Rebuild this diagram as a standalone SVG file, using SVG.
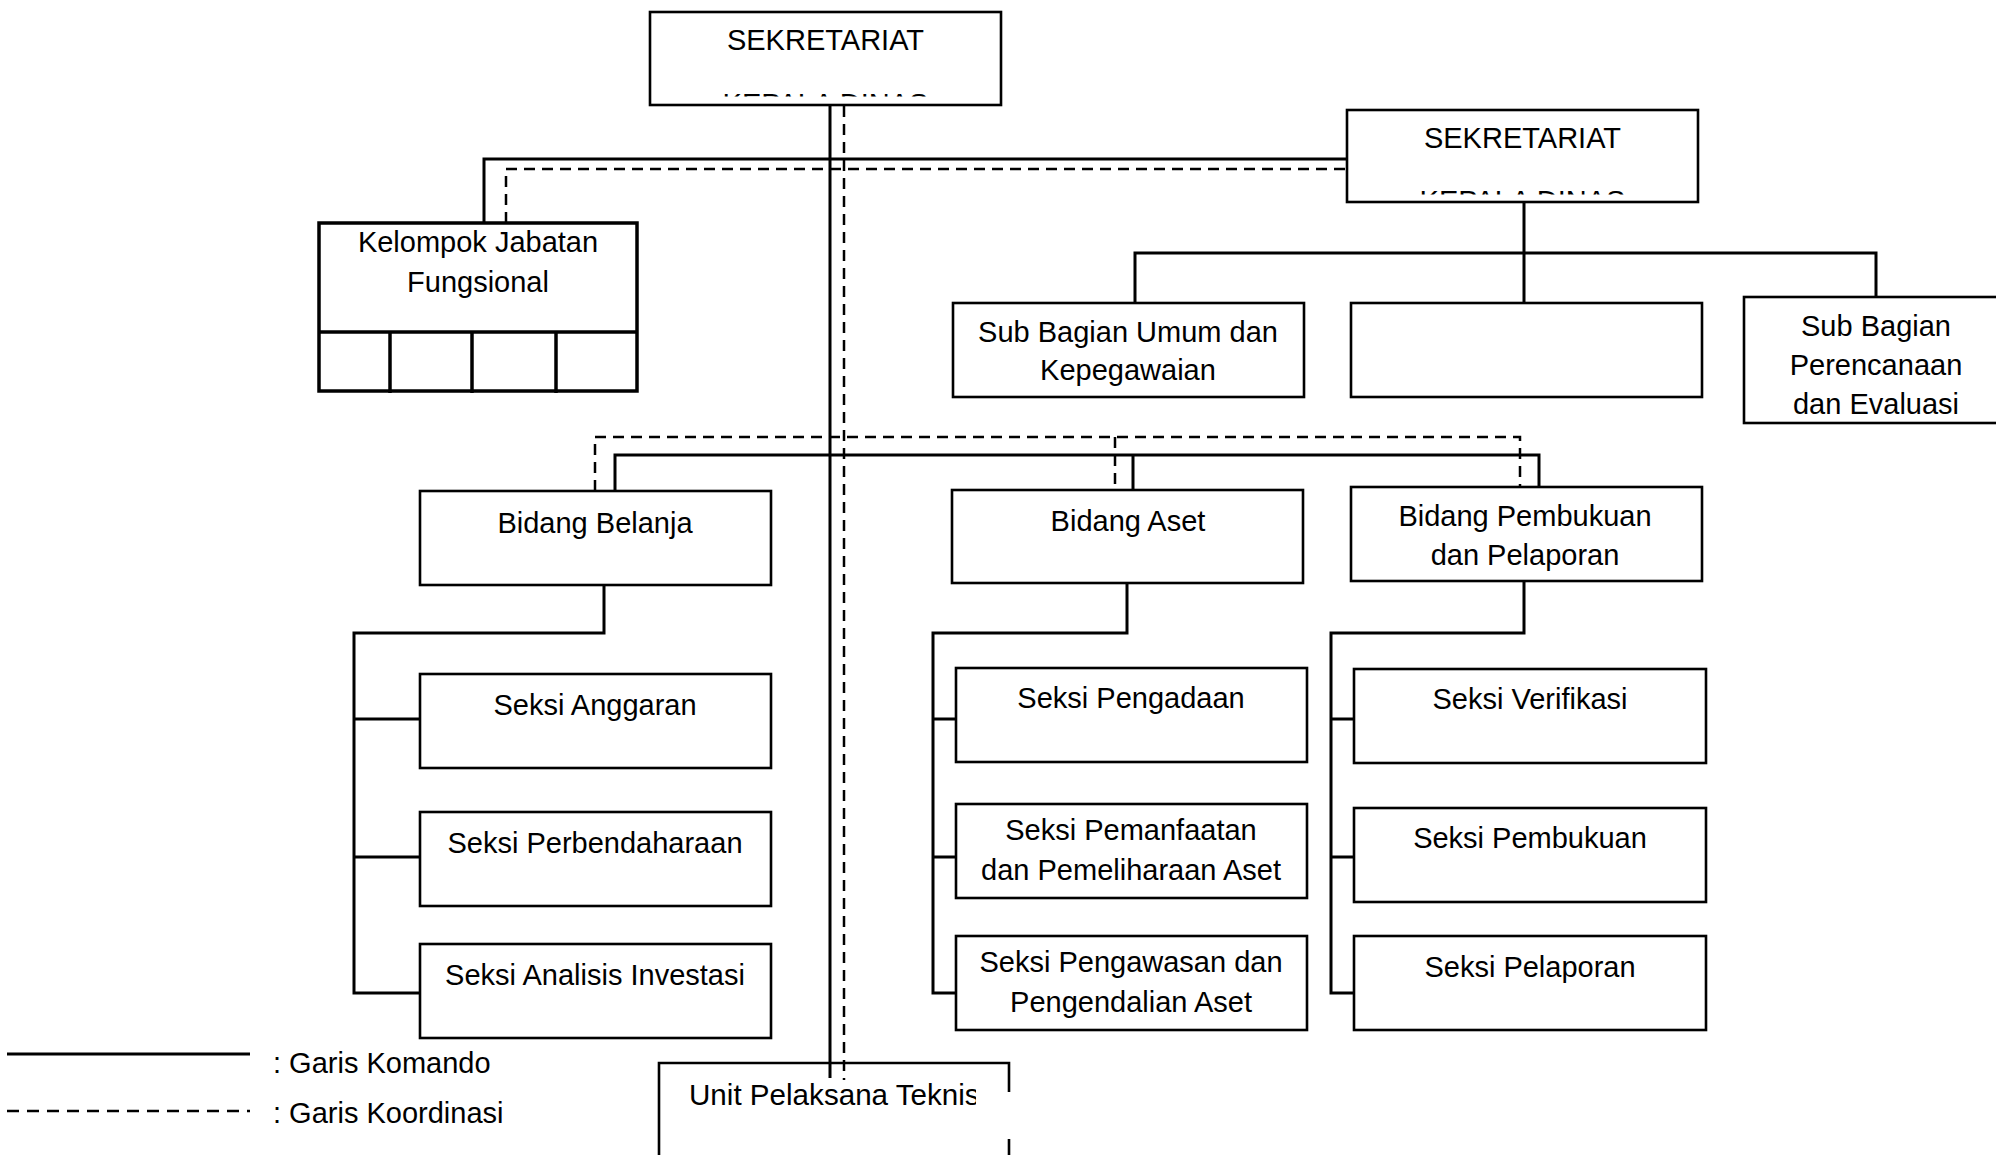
<svg xmlns="http://www.w3.org/2000/svg" width="1996" height="1155" viewBox="0 0 1996 1155">
<style>
.box{fill:#fff;stroke:#000;stroke-width:2.6}
.kb{fill:#fff;stroke:#000;stroke-width:3.5}
.t{font-family:"Liberation Sans",Arial,sans-serif;font-size:29px;fill:#000;text-anchor:middle}
.tl{font-family:"Liberation Sans",Arial,sans-serif;font-size:29px;fill:#000}
.c{fill:none;stroke:#000;stroke-width:3}
.d{fill:none;stroke:#000;stroke-width:2.5;stroke-dasharray:11 7}
</style>
<defs>
<clipPath id="clipTop"><rect x="650" y="11" width="351" height="85.5"/></clipPath>
<clipPath id="clipSek"><rect x="1347" y="110" width="351" height="84.5"/></clipPath>
<clipPath id="clipUpt"><rect x="659" y="1062" width="317" height="93"/></clipPath>
</defs>
<rect width="1996" height="1155" fill="#fff"/>

<g id="nodes">
<g id="sekretariat-top">
<rect class="box" x="650" y="12" width="351" height="93"/>
<text class="t" x="825.5" y="50">SEKRETARIAT</text>
<text class="t" x="825.5" y="114" clip-path="url(#clipTop)">KEPALA DINAS</text>
</g>
<g id="sekretariat">
<rect class="box" x="1347" y="110" width="351" height="92"/>
<text class="t" x="1522.5" y="148">SEKRETARIAT</text>
<text class="t" x="1522.5" y="211" clip-path="url(#clipSek)">KEPALA DINAS</text>
</g>
<g id="kelompok-jabatan-fungsional">
<rect class="kb" x="319" y="223" width="318" height="168"/>
<line class="kb" x1="319" y1="332" x2="637" y2="332"/>
<line class="kb" x1="390" y1="332" x2="390" y2="393"/>
<line class="kb" x1="472" y1="332" x2="472" y2="393"/>
<line class="kb" x1="556" y1="332" x2="556" y2="393"/>
<text class="t" x="478" y="252">Kelompok Jabatan</text>
<text class="t" x="478" y="292">Fungsional</text>
</g>
<g id="sub-bagian-umum">
<rect class="box" x="953" y="303" width="351" height="94"/>
<text class="t" x="1128" y="342">Sub Bagian Umum dan</text>
<text class="t" x="1128" y="380">Kepegawaian</text>
</g>
<g id="sub-bagian-kosong">
<rect class="box" x="1351" y="303" width="351" height="94"/>
</g>
<g id="sub-bagian-perencanaan">
<rect class="box" x="1744" y="297" width="300" height="126"/>
<text class="t" x="1876" y="336">Sub Bagian</text>
<text class="t" x="1876" y="375">Perencanaan</text>
<text class="t" x="1876" y="414">dan Evaluasi</text>
</g>
<g id="bidang-belanja">
<rect class="box" x="420" y="491" width="351" height="94"/>
<text class="t" x="595" y="533">Bidang Belanja</text>
</g>
<g id="bidang-aset">
<rect class="box" x="952" y="490" width="351" height="93"/>
<text class="t" x="1128" y="531">Bidang Aset</text>
</g>
<g id="bidang-pembukuan">
<rect class="box" x="1351" y="487" width="351" height="94"/>
<text class="t" x="1525" y="526">Bidang Pembukuan</text>
<text class="t" x="1525" y="565">dan Pelaporan</text>
</g>
<g id="seksi-anggaran">
<rect class="box" x="420" y="674" width="351" height="94"/>
<text class="t" x="595" y="715">Seksi Anggaran</text>
</g>
<g id="seksi-perbendaharaan">
<rect class="box" x="420" y="812" width="351" height="94"/>
<text class="t" x="595" y="853">Seksi Perbendaharaan</text>
</g>
<g id="seksi-analisis-investasi">
<rect class="box" x="420" y="944" width="351" height="94"/>
<text class="t" x="595" y="985">Seksi Analisis Investasi</text>
</g>
<g id="seksi-pengadaan">
<rect class="box" x="956" y="668" width="351" height="94"/>
<text class="t" x="1131" y="708">Seksi Pengadaan</text>
</g>
<g id="seksi-pemanfaatan">
<rect class="box" x="956" y="804" width="351" height="94"/>
<text class="t" x="1131" y="840">Seksi Pemanfaatan</text>
<text class="t" x="1131" y="880">dan Pemeliharaan Aset</text>
</g>
<g id="seksi-pengawasan">
<rect class="box" x="956" y="936" width="351" height="94"/>
<text class="t" x="1131" y="972">Seksi Pengawasan dan</text>
<text class="t" x="1131" y="1012">Pengendalian Aset</text>
</g>
<g id="seksi-verifikasi">
<rect class="box" x="1354" y="669" width="352" height="94"/>
<text class="t" x="1530" y="709">Seksi Verifikasi</text>
</g>
<g id="seksi-pembukuan">
<rect class="box" x="1354" y="808" width="352" height="94"/>
<text class="t" x="1530" y="848">Seksi Pembukuan</text>
</g>
<g id="seksi-pelaporan">
<rect class="box" x="1354" y="936" width="352" height="94"/>
<text class="t" x="1530" y="977">Seksi Pelaporan</text>
</g>
<g id="unit-pelaksana-teknis">
<path class="box" style="fill:none" d="M659 1160 V1063 H1009 V1092 M1009 1139 V1160"/>
<text class="tl" x="689" y="1105" style="font-size:29.6px" clip-path="url(#clipUpt)">Unit Pelaksana Teknis</text>
</g>
</g>

<g id="connectors">
<path class="c" d="M830 106 V1078"/>
<path class="d" d="M844 106 V1080"/>
<path class="c" d="M484 223 V159 H1347"/>
<path class="d" d="M506 223 V169 H1347"/>
<path class="c" d="M1524 202 V303 M1135 303 V253 H1876 V297"/>
<path class="c" d="M615 491 V455 H1539 V487 M1133 455 V490"/>
<path class="d" d="M595 491 V437 H1520 V487 M1115 437 V490"/>
<path class="c" d="M604 585 V633 H354 V993 H420 M354 719 H420 M354 857 H420"/>
<path class="c" d="M1127 583 V633 H933 V993 H956 M933 719 H956 M933 857 H956"/>
<path class="c" d="M1524 581 V633 H1331 V993 H1354 M1331 719 H1354 M1331 857 H1354"/>
</g>

<g id="legend">
<line class="c" x1="7" y1="1054" x2="250" y2="1054"/>
<line class="d" x1="7" y1="1111" x2="250" y2="1111" style="stroke-dasharray:12 8"/>
<text class="tl" x="273" y="1073">: Garis Komando</text>
<text class="tl" x="273" y="1123">: Garis Koordinasi</text>
</g>
</svg>
